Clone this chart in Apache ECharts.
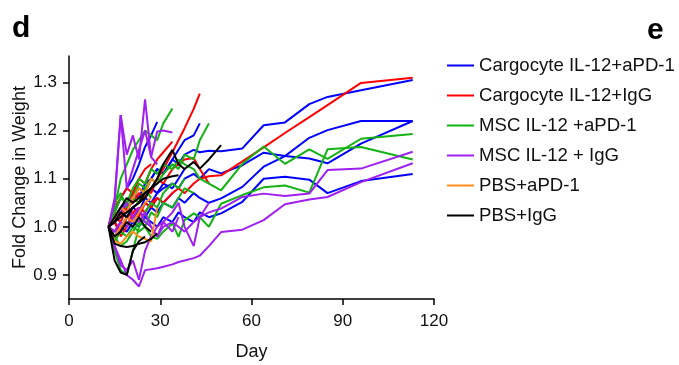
<!DOCTYPE html>
<html><head><meta charset="utf-8">
<script src="https://cdn.jsdelivr.net/npm/echarts@6/dist/echarts.min.js"></script>
<style>html,body{margin:0;padding:0;background:#fff}#c{width:679px;height:365px}</style>
</head><body><div id="c"></div>
<script>
// Measurement days (shared grid; each mouse uses a prefix of it)
const days = [13,15,17,19,21,23,25,27,29,31,34,36,38,41,43,46,50,57,64,71,79,85,96,113];

const groupNames = ['Cargocyte IL-12+aPD-1','Cargocyte IL-12+IgG','MSC IL-12 +aPD-1','MSC IL-12 + IgG','PBS+aPD-1','PBS+IgG'];
const groupColors = ['#0000ff','#ff0000','#12b312','#a020f0','#ff8c1a','#000000'];

const cargoAPD1 = [
  [1.0,1.02,1.04,1.03,1.06,1.08,1.07,1.1,1.12,1.11,1.14,1.13,1.15,1.16,1.155,1.158,1.157,1.163,1.211,1.217,1.255,1.27,1.284,1.305],
  [1.0,0.99,1.01,1.0,1.02,1.03,1.02,1.04,1.03,1.05,1.04,1.06,1.05,1.07,1.06,1.05,1.059,1.083,1.125,1.147,1.185,1.201,1.22,1.22],
  [1.0,1.01,1.03,1.02,1.04,1.05,1.06,1.05,1.07,1.08,1.09,1.08,1.1,1.11,1.1,1.12,1.111,1.128,1.154,1.147,1.142,1.132,1.173,1.22],
  [1.0,0.98,1.0,0.99,1.01,1.0,1.02,1.01,1.0,1.02,1.01,1.03,1.02,1.01,1.03,1.02,1.028,1.052,1.1,1.104,1.098,1.07,1.095,1.11],
  [1.0,1.02,1.04,1.05,1.07,1.06,1.09,1.1,1.12,1.11,1.14,1.16,1.18,1.19,1.215],
  [1.0,1.03,1.06,1.08,1.1,1.13,1.166,1.19,1.218],
  [1.0,0.98,1.0,1.02,1.01,1.03,1.05,1.04,1.06,1.05,1.07],
  [1.0,1.01,0.99,1.02,1.04,1.03,1.06,1.08,1.07,1.09,1.08,1.1,1.12]
];
const cargoIgG = [
  [1.0,1.01,0.99,1.02,1.03,1.04,1.03,1.05,1.06,1.05,1.07,1.08,1.07,1.09,1.1,1.105,1.107,1.136,1.165,1.195,1.228,1.253,1.299,1.31],
  [1.0,1.02,1.01,1.04,1.05,1.07,1.06,1.08,1.1,1.12,1.155,1.18,1.205,1.245,1.277],
  [1.0,1.03,1.02,1.05,1.07,1.1,1.09,1.12,1.14,1.155,1.177],
  [1.0,1.02,1.04,1.03,1.06,1.05,1.08,1.07,1.1,1.09,1.12,1.13,1.14,1.143,1.12,1.09],
  [1.0,1.01,0.98,1.0,1.03,1.02,1.05,1.04,1.06],
  [1.0,1.04,1.06,1.08,1.07,1.1,1.12,1.13]
];
const mscAPD1 = [
  [1.0,1.03,1.06,1.05,1.08,1.1,1.09,1.12,1.11,1.13,1.12,1.14,1.13,1.12,1.1,1.09,1.076,1.131,1.167,1.131,1.161,1.141,1.183,1.193],
  [1.0,0.97,0.99,0.98,1.0,0.99,1.0,0.98,0.975,0.99,1.007,0.979,1.014,1.028,1.02,1.0,1.048,1.066,1.082,1.086,1.071,1.161,1.166,1.14],
  [1.0,0.95,0.91,0.9,0.95,1.0,1.03,1.05,1.04,1.07,1.09,1.08,1.1],
  [1.0,1.04,1.1,1.13,1.16,1.18,1.2,1.19,1.18,1.215,1.246],
  [1.0,1.02,1.04,1.03,1.06,1.05,1.08,1.1,1.09,1.11,1.13,1.12,1.15,1.14,1.18,1.215],
  [1.0,0.98,0.96,0.97,0.99,1.01,1.0,1.03,1.02,1.05,1.04,1.06,1.08,1.07],
  [1.0,1.05,1.07,1.04,1.06,1.09,1.08,1.06]
];
const mscIgG = [
  [1.0,0.99,1.01,1.0,1.02,1.01,1.03,1.0,0.98,1.0,1.01,1.0,0.99,1.01,1.02,1.03,1.038,1.062,1.069,1.064,1.069,1.118,1.121,1.156],
  [1.0,0.96,0.93,0.9,0.89,0.876,0.91,0.912,0.914,0.917,0.922,0.927,0.93,0.935,0.94,0.96,0.989,0.994,1.014,1.047,1.057,1.062,1.093,1.132],
  [1.0,1.05,1.232,1.15,1.19,1.14,1.265,1.145,1.13],
  [1.0,1.06,1.232,1.08,1.12,1.16,1.2,1.145,1.198,1.2,1.196],
  [1.0,0.96,0.92,0.91,0.93,0.89,0.95,0.98,1.0,1.01,0.99,1.02],
  [1.0,1.01,1.03,1.05,1.02,1.04,1.01,1.0,0.98,1.01,1.03,1.05,1.0,0.96,1.02,1.05]
];
const pbsAPD1 = [
  [1.0,0.97,0.965,0.98,0.99,0.98,0.975,0.97,1.04],
  [1.0,0.98,1.0,1.02,1.01,1.03,1.05,1.06],
  [1.0,1.02,1.04,1.03,1.06,1.08,1.07,1.1,1.09]
];
const pbsIgG = [
  [1.0,1.01,1.03,1.02,1.04,1.05,1.06,1.08,1.1,1.13,1.16,1.13,1.12,1.135,1.121,1.14,1.17],
  [1.0,0.93,0.905,0.9,0.95,0.97,0.98],
  [1.0,0.965,0.96,0.958,0.96,0.965,0.968,0.975,0.986],
  [1.0,1.01,1.02,1.03,1.04,1.05,1.07,1.08,1.09,1.1,1.105,1.107],
  [1.0,1.02,1.04,1.06,1.05,1.06,1.07,1.08,1.09],
  [1.0,0.98,0.99,1.01,1.0,1.02,1.0,0.99]
];

const xTicks = [0,30,60,90,120];
const yTicks = [0.9,1.0,1.1,1.2,1.3];

const groups = [cargoAPD1, cargoIgG, mscAPD1, mscIgG, pbsAPD1, pbsIgG];
const series = [];
groups.forEach((mice, g) => {
  mice.forEach(vals => {
    series.push({
      name: groupNames[g], type: 'line', symbol: 'none', showSymbol: false,
      data: vals.map((v, i) => [days[i], v]),
      lineStyle: { width: 2, color: groupColors[g] },
      itemStyle: { color: groupColors[g] },
      emphasis: { disabled: true }, animation: false, silent: true
    });
  });
});

const chart = echarts.init(document.getElementById('c'), null, { renderer: 'canvas' });
const font = 'Liberation Sans, Arial, sans-serif';
chart.setOption({
  backgroundColor: '#fff',
  animation: false,
  grid: { left: 69, right: 245, top: 56, bottom: 66, containLabel: false, outerBoundsMode: 'none' },
  legend: {
    data: groupNames, orient: 'vertical', left: 447, top: 56, padding: 0,
    icon: 'rect', itemWidth: 27, itemHeight: 2, itemGap: 11, selectedMode: false,
    textStyle: { fontSize: 18.6, color: '#111', fontFamily: font }
  },
  xAxis: {
    type: 'value', min: 0, max: 120, interval: 30,
    name: 'Day', nameLocation: 'middle', nameGap: 44, nameMoveOverlap: false,
    nameTextStyle: { fontSize: 18, color: '#111', fontFamily: font },
    axisLine: { show: true, onZero: false, lineStyle: { color: '#000', width: 1.5 } },
    axisTick: { show: true, length: 6, lineStyle: { color: '#000', width: 1.5 } },
    axisLabel: { fontSize: 17, color: '#111', fontFamily: font, margin: 14, customValues: xTicks },
    splitLine: { show: false }
  },
  yAxis: {
    type: 'value', min: 0.85, max: 1.355, interval: 0.05,
    name: 'Fold Change in Weight', nameLocation: 'middle', nameGap: 40, nameRotate: 90, nameMoveOverlap: false,
    nameTextStyle: { fontSize: 18, color: '#111', fontFamily: font },
    axisLine: { show: true, onZero: false, lineStyle: { color: '#000', width: 1.5 } },
    axisTick: { show: true, length: 6, lineStyle: { color: '#000', width: 1.5 }, customValues: yTicks },
    axisLabel: { fontSize: 17, color: '#111', fontFamily: font, margin: 12, customValues: yTicks,
      formatter: v => v.toFixed(1) },
    splitLine: { show: false }
  },
  graphic: [
    { type: 'text', left: 12, top: 14, style: { text: 'd', fontSize: 30, fontWeight: 'bold', fill: '#000', fontFamily: font } },
    { type: 'text', left: 647, top: 16, style: { text: 'e', fontSize: 30, fontWeight: 'bold', fill: '#000', fontFamily: font } }
  ],
  series: series
});
</script>
</body></html>
